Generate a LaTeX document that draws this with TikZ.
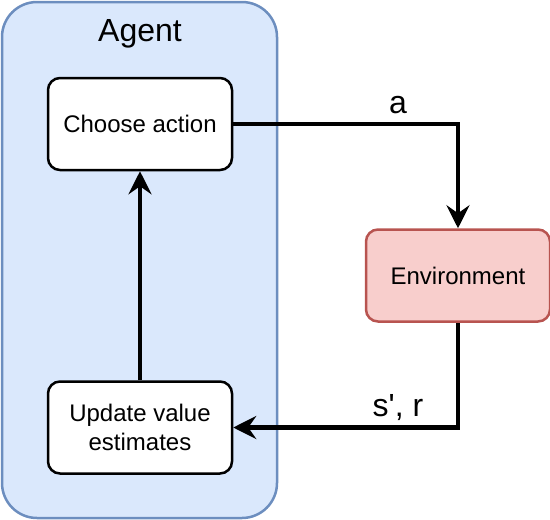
\documentclass[tikz,border=0pt]{standalone}
\usepackage{fontspec}
\setmainfont{Liberation Sans}
\usetikzlibrary{arrows.meta}
\definecolor{agentfill}{HTML}{DAE8FC}
\definecolor{agentdraw}{HTML}{6C8EBF}
\definecolor{envfill}{HTML}{F8CECC}
\definecolor{envdraw}{HTML}{B85450}
\tikzset{
  procbox/.style={draw=black, fill=white, line width=2.5pt, rounded corners=12pt,
    minimum width=184pt, minimum height=92pt, inner sep=0pt, align=center,
    font=\fontsize{24}{29}\selectfont},
  envbox/.style={procbox, draw=envdraw, fill=envfill},
  conn/.style={line width=4.3pt, -{Stealth[length=23pt,width=23pt,inset=8pt]}},
  biglabel/.style={inner sep=0pt, font=\fontsize{32}{38}\selectfont}
}
\begin{document}
\begin{tikzpicture}[x=1pt,y=-1pt]
\useasboundingbox (0,0) rectangle (550,520);
\draw[fill=agentfill, draw=agentdraw, line width=2.5pt, rounded corners=35pt] (2,2) rectangle (277,518);
\node[biglabel] (agent) at (140,34) {Agent};
\node[procbox] (choose) at (140,124) {Choose action};
\node[procbox] (update) at (140,427.5) {Update value\\estimates};
\node[envbox] (env) at (458,275.5) {Environment};
\draw[conn] (choose.east) -| (env.north);
\draw[conn] (env.south) |- (update.east);
\draw[conn] (update.north) -- (choose.south);
\node[biglabel, anchor=base] (la) at (398,113) {a};
\node[biglabel, anchor=base] (lsr) at (398,416) {s\textquotesingle, r};
\end{tikzpicture}
\end{document}
